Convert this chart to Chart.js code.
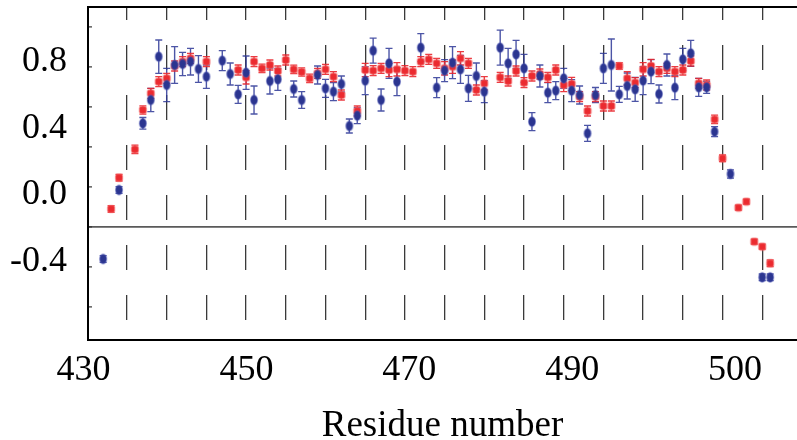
<!DOCTYPE html>
<html>
<head>
<meta charset="utf-8">
<script src="https://cdn.jsdelivr.net/npm/chart.js@4.4.1/dist/chart.umd.min.js"></script>
<style>
  html, body { margin: 0; padding: 0; background: #fff; }
  canvas { display: block; }
</style>
</head>
<body>
<canvas id="resChart" width="797" height="440"></canvas>
<script>
// ── Residue profile – red / blue series with error bars ──

// red series
const redRes = [433,434,436,437,438,439,440,441,442,443,445,449,450,451,452,453,454,455,456,457,458,459,460,461,462,464,465,466,467,468,469,470,471,472,473,474,475,476,477,478,479,480,482,483,484,485,486,487,488,489,490,491,492,493,494,495,496,497,498,499,500,501,502,503,504,505,506,507,508,509,510,512,513,514,515,516];
const redVal = [-0.084,0.104,0.274,0.51,0.61,0.68,0.70,0.774,0.80,0.82,0.80,0.75,0.706,0.80,0.76,0.78,0.744,0.81,0.754,0.738,0.70,0.73,0.754,0.71,0.60,0.504,0.75,0.746,0.76,0.75,0.754,0.746,0.74,0.80,0.814,0.79,0.76,0.77,0.82,0.79,0.63,0.67,0.706,0.684,0.744,0.674,0.714,0.726,0.706,0.75,0.66,0.666,0.59,0.504,0.59,0.534,0.534,0.774,0.70,0.674,0.754,0.774,0.74,0.76,0.74,0.75,0.804,0.67,0.66,0.454,0.22,-0.076,-0.04,-0.28,-0.31,-0.41];
const redErr = [0.02,0.02,0.025,0.025,0.03,0.03,0.03,0.03,0.03,0.03,0.03,0.03,0.04,0.03,0.025,0.03,0.03,0.03,0.025,0.025,0.025,0.03,0.03,0.03,0.03,0.03,0.04,0.03,0.03,0.04,0.04,0.03,0.03,0.03,0.03,0.03,0.04,0.04,0.04,0.03,0.03,0.04,0.03,0.03,0.03,0.03,0.03,0.03,0.03,0.03,0.04,0.04,0.03,0.03,0.03,0.03,0.03,0.02,0.04,0.03,0.04,0.04,0.03,0.03,0.03,0.03,0.03,0.03,0.03,0.025,0.02,0.015,0.015,0.015,0.015,0.02];

// blue series
const blueRes = [432,434,437,438,439,440,441,442,443,444,445,447,448,449,450,451,453,454,456,457,459,460,461,462,463,464,465,466,467,468,469,472,474,475,476,477,478,479,480,482,483,484,485,486,487,488,489,490,491,492,493,494,495,496,497,498,499,500,501,502,503,504,505,506,507,508,509,511,515,516];
const blueVal = [-0.384,0.03,0.43,0.57,0.83,0.66,0.78,0.786,0.80,0.756,0.71,0.806,0.726,0.604,0.734,0.57,0.684,0.694,0.636,0.57,0.72,0.64,0.62,0.666,0.414,0.476,0.686,0.866,0.57,0.79,0.68,0.884,0.644,0.746,0.794,0.754,0.64,0.714,0.62,0.884,0.79,0.844,0.76,0.44,0.714,0.614,0.626,0.70,0.626,0.60,0.37,0.60,0.76,0.78,0.604,0.654,0.634,0.686,0.74,0.606,0.78,0.644,0.814,0.85,0.646,0.646,0.38,0.126,-0.494,-0.494];
const blueErr = [0.02,0.02,0.035,0.07,0.1,0.1,0.11,0.07,0.08,0.08,0.07,0.06,0.066,0.054,0.1,0.084,0.078,0.066,0.048,0.05,0.054,0.054,0.054,0.048,0.042,0.048,0.084,0.075,0.066,0.09,0.084,0.084,0.06,0.066,0.096,0.084,0.078,0.078,0.066,0.105,0.09,0.084,0.084,0.054,0.066,0.06,0.054,0.06,0.066,0.054,0.048,0.045,0.09,0.156,0.048,0.078,0.072,0.084,0.072,0.054,0.066,0.072,0.066,0.078,0.054,0.036,0.03,0.025,0.02,0.02];

// axes
const xTickValues = [430,450,470,490,510];
const xTickLabels = ['430','450','470','490','500'];
const yTickValues = [0.8,0.4,0.0,-0.4];
const gridResidues = [435,440,445,450,455,460,465,470,475,480,485,490,495,500,505,510,515];
const sideTicks = [1.0,0.8,0.6,0.4,0.2,0.0,-0.2,-0.4];

const FONT = "'Liberation Serif', 'Times New Roman', serif";

function marker(w, h, draw) {
  const c = document.createElement('canvas');
  c.width = w; c.height = h;
  draw(c.getContext('2d'));
  return c;
}
const blueDot = marker(10, 13, g => {
  g.beginPath(); g.ellipse(5, 6.5, 3.5, 4.8, 0, 0, Math.PI*2);
  g.fillStyle = '#2b3590'; g.fill();
  g.lineWidth = 1.2; g.strokeStyle = 'rgba(90,100,190,0.45)'; g.stroke();
});
const redDot = marker(10, 10, g => {
  g.beginPath(); g.roundRect(1.5, 1.5, 7, 7, 2);
  g.fillStyle = '#eb2a2f'; g.fill();
  g.lineWidth = 1.3; g.strokeStyle = 'rgba(245,110,110,0.5)'; g.stroke();
});

const pts = (res, val) => res.map((r, i) => ({ x: r, y: val[i] }));

// no auto padding for first/last labels – plot area is set by hand
const fixBox = (w, h) => s => {
  if (w !== null) s.width = w;
  if (h !== null) s.height = h;
  s.paddingLeft = s.paddingRight = s.paddingTop = s.paddingBottom = 0;
};

const errorBars = {
  id: 'errorBars',
  beforeDatasetsDraw(chart) {
    const { ctx, scales: { x, y } } = chart;
    chart.data.datasets.forEach(ds => {
      ctx.save();
      ctx.strokeStyle = ds.errColor; ctx.lineWidth = 1.4;
      ds.data.forEach((p, i) => {
        const px = x.getPixelForValue(p.x), e = ds.errors[i];
        const t = y.getPixelForValue(p.y + e), b = y.getPixelForValue(p.y - e);
        ctx.beginPath();
        ctx.moveTo(px, t); ctx.lineTo(px, b);
        ctx.moveTo(px - 3.5, t); ctx.lineTo(px + 3.5, t);
        ctx.moveTo(px - 3.5, b); ctx.lineTo(px + 3.5, b);
        ctx.stroke();
      });
      ctx.restore();
    });
  }
};

new Chart(document.getElementById('resChart').getContext('2d'), {
  type: 'scatter',
  data: {
    datasets: [
      { label: 'blue', data: pts(blueRes, blueVal), errors: blueErr, errColor: 'rgba(45,55,150,0.85)', pointStyle: blueDot, pointRadius: 5 },
      { label: 'red', data: pts(redRes, redVal), errors: redErr, errColor: 'rgba(232,38,44,0.9)', pointStyle: redDot, pointRadius: 5 }
    ]
  },
  options: {
    responsive: false, animation: false, devicePixelRatio: 1, events: [],
    layout: { padding: 0, autoPadding: false },
    plugins: { legend: { display: false }, tooltip: { enabled: false } },
    scales: {
      x: {
        type: 'linear', position: 'bottom', min: 430.09, max: 519.38, weight: 0,
        afterBuildTicks: s => { s.ticks = gridResidues.map(v => ({ value: v })); },
        afterFit: fixBox(null, 0),
        ticks: { display: false },
        grid: { color: '#3a3a3a', lineWidth: 1.3, drawTicks: false },
        border: { display: true, color: '#000', width: 2, dash: [25, 25], dashOffset: 12 }
      },
      xl: {
        type: 'linear', position: 'bottom', min: 430.553, max: 517.61, weight: 1,
        afterBuildTicks: s => { s.ticks = xTickValues.map(v => ({ value: v })); },
        afterFit: fixBox(null, 100),
        ticks: { autoSkip: false, maxRotation: 0, padding: 9, color: '#000', font: { family: FONT, size: 36 },
                 callback: v => xTickLabels[xTickValues.indexOf(v)] },
        grid: { display: false, drawTicks: false },
        border: { display: false },
        title: { display: true, text: 'Residue number', color: '#000', font: { family: FONT, size: 37, lineHeight: 0.6 }, padding: { top: 0, bottom: 3 } }
      },
      xTop: {
        type: 'linear', position: 'top', min: 430, max: 520,
        afterFit: fixBox(null, 7),
        ticks: { display: false },
        grid: { display: false, drawTicks: false },
        border: { display: true, color: '#000', width: 2 }
      },
      y: {
        type: 'linear', position: 'left', min: -0.870, max: 1.128, weight: 0,
        afterBuildTicks: s => { s.ticks = yTickValues.map(v => ({ value: v })); },
        afterFit: fixBox(88, null),
        ticks: { padding: 21, color: '#000', font: { family: FONT, size: 36 }, callback: v => v.toFixed(1) },
        grid: { display: false, drawTicks: false },
        border: { display: true, color: '#000', width: 2 }
      },
      yt: {
        type: 'linear', position: 'left', min: -0.565, max: 1.1, weight: -1,
        afterBuildTicks: s => { s.ticks = sideTicks.map(v => ({ value: v })); },
        afterFit: fixBox(0, null),
        ticks: { display: false },
        grid: { drawTicks: true, tickLength: -4, tickColor: '#333', tickWidth: 1.2, lineWidth: 1.8,
                color: c => (c.tick && c.tick.value === 0) ? '#5a5a5a' : 'rgba(0,0,0,0)' },
        border: { display: false }
      }
    }
  },
  plugins: [errorBars]
});
</script>
</body>
</html>
